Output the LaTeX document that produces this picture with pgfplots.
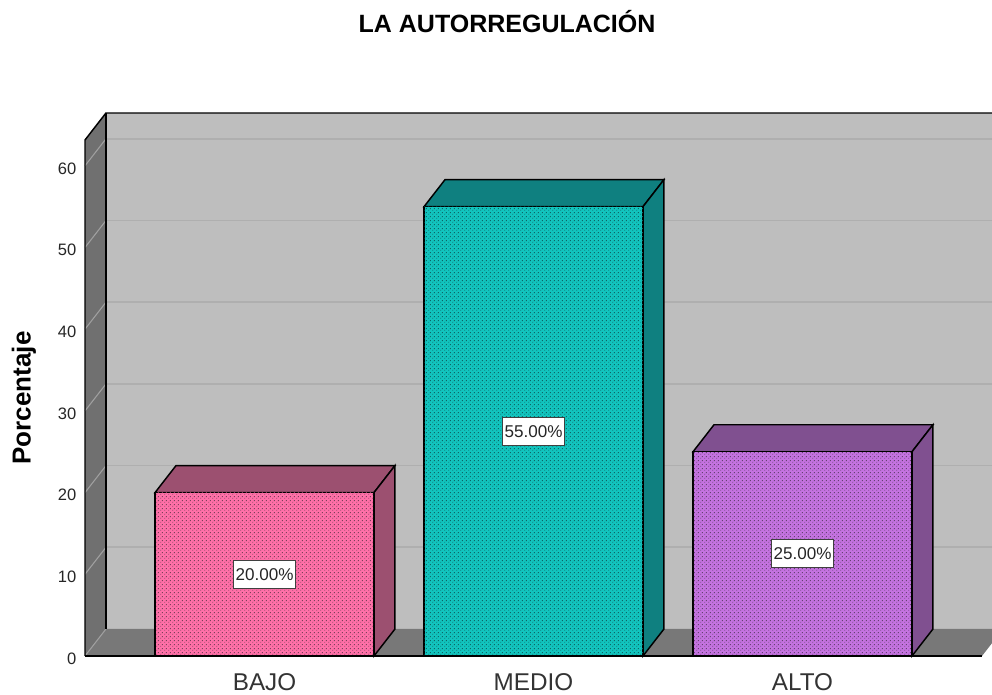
\documentclass[border=0pt]{standalone}
\usepackage{pgfplots}
\pgfplotsset{compat=1.18}
\usepackage{fontspec}
\setmainfont{Liberation Sans}
\usetikzlibrary{patterns}
\definecolor{backw}{HTML}{BEBEBE}
\definecolor{sidew}{HTML}{707070}
\definecolor{floorw}{HTML}{787878}
\definecolor{gridb}{HTML}{AFAFAF}
\definecolor{grids}{HTML}{A0A0A0}
\definecolor{pinkf}{HTML}{FF70A8}
\definecolor{pinkd}{HTML}{9C5070}
\definecolor{tealf}{HTML}{12C4BE}
\definecolor{teald}{HTML}{0F8080}
\definecolor{purpf}{HTML}{C473E0}
\definecolor{purpd}{HTML}{805090}
\pgfdeclarepatternformonly{chk}{\pgfpointorigin}{\pgfqpoint{3pt}{3pt}}{\pgfqpoint{3pt}{3pt}}{
  \pgfpathrectangle{\pgfqpoint{0.3pt}{0.3pt}}{\pgfqpoint{0.85pt}{0.85pt}}
  \pgfpathrectangle{\pgfqpoint{1.8pt}{1.8pt}}{\pgfqpoint{0.85pt}{0.85pt}}
  \pgfusepath{fill}}
\tikzset{hatch/.style={postaction={draw=none,pattern=chk,pattern color=#1}}}
\begin{document}
\begin{tikzpicture}[x=0.75pt,y=0.75pt]
\clip (0,0) rectangle (992,695);
\path[use as bounding box] (0,0) rectangle (992,695);
\begin{axis}[
  at={(85pt*0.75,39pt*0.75)},anchor=south west,
  scale only axis,
  width=672.75pt,height=387pt,
  xmin=-0.6673,xmax=2.6673,ymin=0,ymax=63.16,
  clip=false,
  axis line style={draw=none},
  tick style={draw=none},
  xtick={0,1,2},xticklabels={BAJO,MEDIO,ALTO},
  ytick={0,10,20,30,40,50,60},
  /pgf/number format/assume math mode=true,
  xticklabel style={font=\fontsize{18.2}{20}\selectfont,text=black!80,yshift=-10pt},
  yticklabel style={font=\fontsize{12.4}{14}\selectfont,text=black!85,xshift=-3pt,yshift=-2pt},
  ylabel={\textbf{Porcentaje}},
  ylabel style={font=\fontsize{19.5}{22}\selectfont,at={(axis description cs:-0.0494,0.5)},anchor=south},
  title={\textbf{LA AUTORREGULACIÓN}},
  title style={font=\fontsize{18.75}{22}\selectfont,at={(axis description cs:0.4705,1.0)},anchor=base,yshift=74.5pt},
]
% walls
\addplot[fill=backw,draw=none] coordinates {(-0.5893,3.305)(2.7453,3.305)(2.7453,66.465)(-0.5893,66.465)} --cycle;
\addplot[fill=sidew,draw=none] coordinates {(-0.6673,0)(-0.5893,3.305)(-0.5893,66.465)(-0.6673,63.16)} --cycle;
\addplot[fill=floorw,draw=none] coordinates {(-0.6673,0)(2.6673,0)(2.7453,3.305)(-0.5893,3.305)} --cycle;
% grid lines
\addplot[gridb,line width=1.2pt,forget plot] coordinates {(-0.5893,13.305)(2.7453,13.305)};
\addplot[gridb,line width=1.2pt,forget plot] coordinates {(-0.5893,23.305)(2.7453,23.305)};
\addplot[gridb,line width=1.2pt,forget plot] coordinates {(-0.5893,33.305)(2.7453,33.305)};
\addplot[gridb,line width=1.2pt,forget plot] coordinates {(-0.5893,43.305)(2.7453,43.305)};
\addplot[gridb,line width=1.2pt,forget plot] coordinates {(-0.5893,53.305)(2.7453,53.305)};
\addplot[gridb,line width=1.2pt,forget plot] coordinates {(-0.5893,63.305)(2.7453,63.305)};
\addplot[grids,line width=0.8pt,forget plot] coordinates {(-0.6673,0)(-0.5893,3.305)};
\addplot[grids,line width=0.8pt,forget plot] coordinates {(-0.6673,10)(-0.5893,13.305)};
\addplot[grids,line width=0.8pt,forget plot] coordinates {(-0.6673,20)(-0.5893,23.305)};
\addplot[grids,line width=0.8pt,forget plot] coordinates {(-0.6673,30)(-0.5893,33.305)};
\addplot[grids,line width=0.8pt,forget plot] coordinates {(-0.6673,40)(-0.5893,43.305)};
\addplot[grids,line width=0.8pt,forget plot] coordinates {(-0.6673,50)(-0.5893,53.305)};
\addplot[grids,line width=0.8pt,forget plot] coordinates {(-0.6673,60)(-0.5893,63.305)};
% wall outlines
\addplot[black,line width=1.1pt] coordinates {(-0.6673,0)(-0.6673,63.16)(-0.5893,66.465)(2.7453,66.465)};
\addplot[black,line width=1.1pt] coordinates {(-0.5893,3.305)(-0.5893,66.465)};
\addplot[black,line width=1.1pt] coordinates {(-0.6673,0)(2.6673,0)};
% BAJO
\addplot[fill=pinkd,draw=black,line width=1.1pt] coordinates {(-0.407,20)(0.407,20)(0.485,23.305)(-0.329,23.305)} --cycle;
\addplot[fill=pinkd,draw=black,line width=1.1pt] coordinates {(0.407,0)(0.485,3.305)(0.485,23.305)(0.407,20)} --cycle;
\addplot[ybar,bar shift=0pt,bar width=0.814,fill=pinkf,draw=black,line width=1.1pt,hatch=pinkd!80!black] coordinates {(0,20)};
% MEDIO
\addplot[fill=teald,draw=black,line width=1.1pt] coordinates {(0.593,55)(1.407,55)(1.485,58.305)(0.671,58.305)} --cycle;
\addplot[fill=teald,draw=black,line width=1.1pt] coordinates {(1.407,0)(1.485,3.305)(1.485,58.305)(1.407,55)} --cycle;
\addplot[ybar,bar shift=0pt,bar width=0.814,fill=tealf,draw=black,line width=1.1pt,hatch=teald!80!black] coordinates {(1,55)};
% ALTO
\addplot[fill=purpd,draw=black,line width=1.1pt] coordinates {(1.593,25)(2.407,25)(2.485,28.305)(1.671,28.305)} --cycle;
\addplot[fill=purpd,draw=black,line width=1.1pt] coordinates {(2.407,0)(2.485,3.305)(2.485,28.305)(2.407,25)} --cycle;
\addplot[ybar,bar shift=0pt,bar width=0.814,fill=purpf,draw=black,line width=1.1pt,hatch=purpd!80!black] coordinates {(2,25)};
% value labels
\addplot[draw=none,mark=none,
  nodes near coords,point meta=explicit symbolic,
  nodes near coords align={anchor=center},
  every node near coord/.append style={fill=white,draw=black!75,line width=0.9pt,
    font=\fontsize{12.8}{14}\selectfont,inner xsep=1.8pt,inner ysep=0pt,
    minimum height=21pt,text=black!85,anchor=center}]
  coordinates {(0,10)[20.00\%] (1,27.5)[55.00\%] (2,12.5)[25.00\%]};
\end{axis}
\end{tikzpicture}
\end{document}
